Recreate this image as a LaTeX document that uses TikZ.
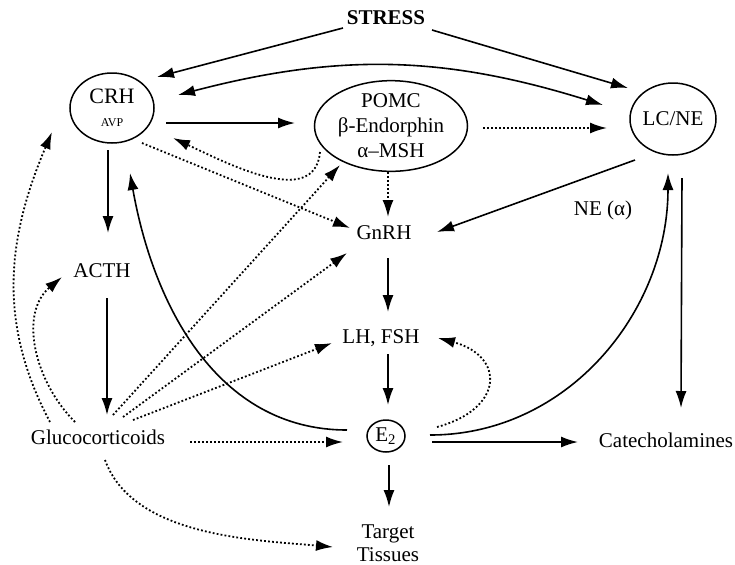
\documentclass[tikz,border=0pt]{standalone}
\usepackage{fontspec}
\setmainfont{Liberation Serif}
\usepackage{tikz}
\usetikzlibrary{calc}
\usetikzlibrary{shapes}
\usetikzlibrary{arrows.meta}

\begin{document}
\begin{tikzpicture}[x=0.5pt,y=-0.5pt,
    >={Latex[length=8.5pt,width=5.5pt]},
    every node/.style={font=\fontsize{10.5}{12.5}\selectfont},
    oval/.style={draw,ellipse,line width=0.75pt,inner sep=0pt,align=center},
    arr/.style={->,line width=0.8pt},
    dotarr/.style={->,line width=0.9pt,dash pattern=on 0.9pt off 1.1pt}]
  \useasboundingbox (0,0) rectangle (735,564);
  % hormones and centres
  \node[font=\fontsize{10.5}{12.5}\selectfont\bfseries] (stress) at (386,18) {STRESS};
  \node[oval,minimum width=42pt,minimum height=35pt] (crh) at (112,108)
    {{\fontsize{11}{11}\selectfont CRH}\\[-1pt]{\fontsize{6}{7}\selectfont AVP}};
  \node[oval,minimum width=76.5pt,minimum height=41pt] (pomc) at (391,126)
    {POMC\\β-Endorphin\\α–MSH};
  \node[oval,minimum width=43pt,minimum height=36pt] (lcne) at (673,119) {LC/NE};
  \node (gnrh) at (384,233) {GnRH};
  \node (acth) at (102,271) {ACTH};
  \node (lhfsh) at (381,338) {LH, FSH};
  \node[oval,minimum width=19pt,minimum height=16pt] (estr) at (386,436) {E\textsubscript{2}};
  \node[align=center,font=\fontsize{10.5}{11.5}\selectfont] (tgt) at (388,543) {Target\\Tissues};
  \node (gluco) at (98,437) {Glucocorticoids};
  \node (catec) at (666,440) {Catecholamines};
  \node (nealpha) at (603,210) {NE (α)};
  % solid arrows
  \draw[arr] ($(stress)+(-43,10)$) -- ($(crh)+(45,-31)$);
  \draw[arr] ($(stress)+(46,12)$) -- ($(lcne)+(-45,-31)$);
  \draw[arr,<->] ($(crh)+(66,-13)$) to[bend left=16] ($(lcne)+(-70,-14)$);
  \draw[arr] ($(crh)+(54,15)$) -- ($(pomc)+(-96,-3)$);
  \draw[arr] ($(crh)+(-4,42)$) -- ($(acth)+(6,-38)$);
  \draw[arr] ($(acth)+(5,27)$) -- ($(gluco)+(9,-22)$);
  \draw[arr] ($(lcne)+(-38,41)$) -- ($(gnrh)+(53,-1)$);
  \draw[arr] ($(lcne)+(9,59)$) -- ($(catec)+(15,-32)$);
  \draw[arr] ($(gnrh)+(4,25)$) -- ($(lhfsh)+(7,-26)$);
  \draw[arr] ($(lhfsh)+(7,16)$) -- ($(estr)+(2,-31)$);
  \draw[arr] ($(estr)+(3,29)$) -- ($(tgt)+(1,-36)$);
  \draw[arr] ($(estr)+(46,6)$) -- ($(catec)+(-88,2)$);
  \draw[arr] ($(estr)+(44,-1)$) to[out=0,in=270] ($(lcne)+(-5,54)$);
  \draw[arr] ($(estr)+(-39,-6)$) to[out=180,in=280] ($(crh)+(18,65)$);
  % dotted arrows
  \draw[dotarr] ($(pomc)+(-71,26)$) to[out=265,in=335] ($(crh)+(61,30)$);
  \draw[dotarr] ($(crh)+(30,35)$) -- ($(gnrh)+(-34,-5)$);
  \draw[dotarr] ($(pomc)+(92,2)$) -- ($(lcne)+(-66,9)$);
  \draw[dotarr] ($(pomc)+(-3,46)$) -- ($(gnrh)+(4,-16)$);
  \draw[dotarr] ($(estr)+(51,-9)$) to[out=15,in=345,looseness=2] ($(lhfsh)+(57,0)$);
  \draw[dotarr] ($(gluco)+(-48,-15)$) to[out=118,in=247] ($(crh)+(-60,24)$);
  \draw[dotarr] ($(gluco)+(-23,-15)$) to[out=135,in=220] ($(acth)+(-40,6)$);
  \draw[dotarr] ($(gluco)+(15,-22)$) -- ($(pomc)+(-51,39)$);
  \draw[dotarr] ($(gluco)+(25,-20)$) -- ($(gnrh)+(-37,20)$);
  \draw[dotarr] ($(gluco)+(35,-17)$) -- ($(lhfsh)+(-49,5)$);
  \draw[dotarr] ($(gluco)+(92,5)$) -- ($(estr)+(-43,6)$);
  \draw[dotarr] ($(gluco)+(7,23)$) to[out=290,in=175,looseness=0.85] ($(tgt)+(-55,4)$);
\end{tikzpicture}
\end{document}
